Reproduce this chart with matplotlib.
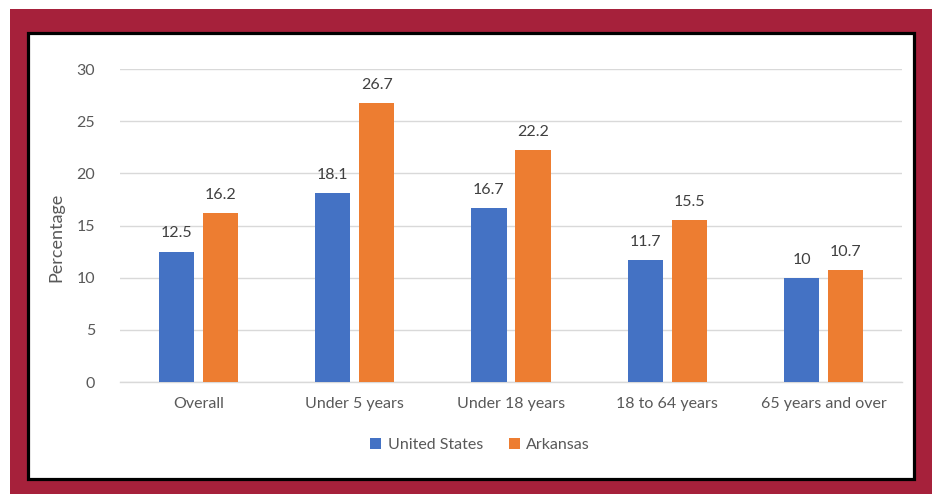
import matplotlib
matplotlib.use("Agg")
import matplotlib.pyplot as plt
from matplotlib.patches import Rectangle
import numpy as np

categories = ["Overall", "Under 5 years", "Under 18 years", "18 to 64 years", "65 years and over"]
us_values = [12.5, 18.1, 16.7, 11.7, 10]
ar_values = [16.2, 26.7, 22.2, 15.5, 10.7]
series_names = ["United States", "Arkansas"]
y_ticks = [0, 5, 10, 15, 20, 25, 30]

plt.rcParams['font.family'] = ['Lato', 'DejaVu Sans']
TXT = '#595959'
W, H = 934, 494
fig = plt.figure(figsize=(W/100, H/100), dpi=100)
fig.patch.set_facecolor('white')

def fx(px): return px / W
def fy(py): return 1 - py / H

# red frame
fig.patches.append(Rectangle((fx(10), 0), fx(932) - fx(10), fy(9), transform=fig.transFigure,
                             facecolor='#A6213B', edgecolor='none', zorder=0))
# inner white box with black border
fig.patches.append(Rectangle((fx(27.5), fy(479)), fx(914) - fx(27.5), fy(33.5) - fy(479),
                             transform=fig.transFigure, facecolor='white', edgecolor='black',
                             linewidth=2.3, zorder=1))

ax = fig.add_axes([fx(120), fy(382), fx(902) - fx(120), fy(69) - fy(382)])
ax.set_facecolor('none')
ax.set_zorder(2)

x = np.arange(len(categories))
bw = 0.225
off = 0.141
b1 = ax.bar(x - off, us_values, bw, color='#4472C4', label=series_names[0], zorder=3)
b2 = ax.bar(x + off, ar_values, bw, color='#ED7D31', label=series_names[1], zorder=3)

for bars, vals in ((b1, us_values), (b2, ar_values)):
    for r, v in zip(bars, vals):
        ax.annotate(f"{v:g}", (r.get_x() + r.get_width()/2, v), xytext=(0, 8),
                    textcoords='offset points', ha='center', va='bottom',
                    fontsize=11.5, color='#404040')

ax.set_xlim(-0.5, len(categories) - 0.5)
ax.set_ylim(0, 30)
ax.set_yticks(y_ticks)
ax.set_xticks(x)
ax.set_xticklabels(categories)
ax.yaxis.grid(True, color='#D9D9D9', linewidth=1)
ax.set_axisbelow(True)
for s in ['top', 'right', 'left']:
    ax.spines[s].set_visible(False)
ax.spines['bottom'].set_color('#D9D9D9')
ax.spines['bottom'].set_linewidth(1)
ax.tick_params(axis='both', length=0, labelsize=11.5, labelcolor=TXT)
ax.tick_params(axis='y', pad=18)
ax.tick_params(axis='x', pad=11)
ax.set_ylabel("Percentage", fontsize=13, color=TXT)
ax.yaxis.set_label_coords(-(120 - 64) / 782, (382 - 237) / 313)

fig.legend(handles=[b1, b2], labels=series_names, loc='center', bbox_to_anchor=(fx(480), fy(445)),
           ncol=2, frameon=False, fontsize=11.5, labelcolor=TXT, handlelength=0.7, handleheight=0.7,
           handletextpad=0.4, columnspacing=1.6)

fig.savefig("out.png", dpi=100, facecolor='white')
